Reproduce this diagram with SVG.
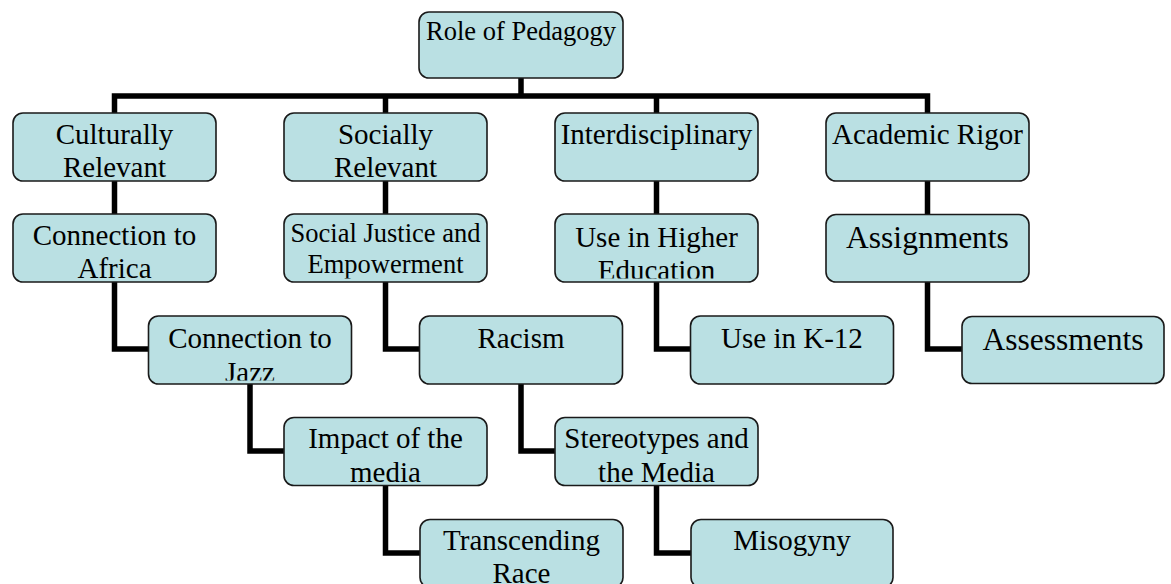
<svg xmlns="http://www.w3.org/2000/svg" width="1171" height="584" viewBox="0 0 1171 584">
  <style>
    .box { fill: #BAE0E3; stroke: #1a1a1a; stroke-width: 1.6; }
    .lbl { font-family: "Liberation Serif", "Times New Roman", serif; font-size: 29px; fill: #000; text-anchor: middle; }
    .sm { font-size: 26.5px; }
    .lg { font-size: 31.5px; }
    .top { font-size: 26.5px; }
    .wire { fill: none; stroke: #000; stroke-width: 5.5; stroke-linejoin: miter; stroke-linecap: butt; }
  </style>
  <defs>
    <!-- text areas: box interior, trimmed a little at the bottom edge -->
    <clipPath id="c-cult"><rect x="13" y="113" width="203" height="64.5"/></clipPath>
    <clipPath id="c-soc"><rect x="284" y="113" width="203" height="64.5"/></clipPath>
    <clipPath id="c-afr"><rect x="13" y="214" width="203" height="64.5"/></clipPath>
    <clipPath id="c-sj"><rect x="284" y="214" width="203" height="64.5"/></clipPath>
    <clipPath id="c-hed"><rect x="555" y="214" width="203" height="64.5"/></clipPath>
    <clipPath id="c-jazz"><rect x="148.5" y="316" width="203" height="64.5"/></clipPath>
    <clipPath id="c-imp"><rect x="284" y="417.5" width="203" height="64.5"/></clipPath>
    <clipPath id="c-ster"><rect x="555" y="417.5" width="203" height="64.5"/></clipPath>
    <clipPath id="c-tran"><rect x="420" y="519.5" width="203" height="64"/></clipPath>
  </defs>

  <!-- connectors -->
  <g id="connectors">
    <path class="wire" d="M521 78 V96"/>
    <path class="wire" d="M114.5 113 V96 H927.5 V113"/>
    <path class="wire" d="M385.5 96 V113"/>
    <path class="wire" d="M656.5 96 V113"/>

    <path class="wire" d="M114.5 181 V214"/>
    <path class="wire" d="M385.5 181 V214"/>
    <path class="wire" d="M656.5 181 V214"/>
    <path class="wire" d="M927.5 181 V215"/>

    <path class="wire" d="M114.5 282 V349 H148.5"/>
    <path class="wire" d="M385.5 282 V349 H419.5"/>
    <path class="wire" d="M656.5 282 V349 H690.5"/>
    <path class="wire" d="M927.5 282 V349 H962"/>

    <path class="wire" d="M250 384 V451 H284"/>
    <path class="wire" d="M521 384 V451 H555"/>

    <path class="wire" d="M385.5 485.5 V553 H420"/>
    <path class="wire" d="M656.5 485.5 V553 H691"/>
  </g>

  <g id="node-role">
    <rect class="box" x="419" y="12" width="204" height="66" rx="10"/>
    <text class="lbl top" x="521" y="40">Role of Pedagogy</text>
  </g>

  <g id="node-cultural">
    <rect class="box" x="13" y="113" width="203" height="68" rx="10"/>
    <g clip-path="url(#c-cult)">
      <text class="lbl" x="114.5" y="143.5">Culturally</text>
      <text class="lbl" x="114.5" y="176.8">Relevant</text>
    </g>
  </g>

  <g id="node-social">
    <rect class="box" x="284" y="113" width="203" height="68" rx="10"/>
    <g clip-path="url(#c-soc)">
      <text class="lbl" x="385.5" y="143.5">Socially</text>
      <text class="lbl" x="385.5" y="176.5">Relevant</text>
    </g>
  </g>

  <g id="node-inter">
    <rect class="box" x="555" y="113" width="203" height="68" rx="10"/>
    <text class="lbl" x="656.5" y="144.3">Interdisciplinary</text>
  </g>

  <g id="node-rigor">
    <rect class="box" x="826" y="113" width="203" height="68" rx="10"/>
    <text class="lbl" x="927.5" y="144.3">Academic Rigor</text>
  </g>

  <g id="node-africa">
    <rect class="box" x="13" y="214" width="203" height="68" rx="10"/>
    <g clip-path="url(#c-afr)">
      <text class="lbl" x="114.5" y="245">Connection to</text>
      <text class="lbl" x="114.5" y="278.4">Africa</text>
    </g>
  </g>

  <g id="node-justice">
    <rect class="box" x="284" y="214" width="203" height="68" rx="10"/>
    <g clip-path="url(#c-sj)">
      <text class="lbl sm" x="385.5" y="241.7">Social Justice and</text>
      <text class="lbl sm" x="385.5" y="272.7">Empowerment</text>
    </g>
  </g>

  <g id="node-higher">
    <rect class="box" x="555" y="214" width="203" height="68" rx="10"/>
    <g clip-path="url(#c-hed)">
      <text class="lbl" x="656.5" y="246.7">Use in Higher</text>
      <text class="lbl" x="656.5" y="280.1">Education</text>
    </g>
  </g>

  <g id="node-assign">
    <rect class="box" x="826" y="214.5" width="203" height="67.5" rx="10"/>
    <text class="lbl lg" x="927.5" y="248.3">Assignments</text>
  </g>

  <g id="node-jazz">
    <rect class="box" x="148.5" y="316" width="203" height="68" rx="10"/>
    <g clip-path="url(#c-jazz)">
      <text class="lbl" x="250" y="348.3">Connection to</text>
      <text class="lbl" x="250" y="381.7">Jazz</text>
    </g>
  </g>

  <g id="node-racism">
    <rect class="box" x="419.5" y="316" width="203" height="68" rx="10"/>
    <text class="lbl" x="521" y="348.3">Racism</text>
  </g>

  <g id="node-k12">
    <rect class="box" x="690.5" y="316" width="203" height="68" rx="10"/>
    <text class="lbl" x="792" y="348.3">Use in K-12</text>
  </g>

  <g id="node-assess">
    <rect class="box" x="962" y="316.5" width="202" height="67" rx="10"/>
    <text class="lbl lg" x="1063" y="350">Assessments</text>
  </g>

  <g id="node-media">
    <rect class="box" x="284" y="417.5" width="203" height="68" rx="10"/>
    <g clip-path="url(#c-imp)">
      <text class="lbl" x="385.5" y="448.3">Impact of the</text>
      <text class="lbl" x="385.5" y="481.7">media</text>
    </g>
  </g>

  <g id="node-stereo">
    <rect class="box" x="555" y="417.5" width="203" height="68" rx="10"/>
    <g clip-path="url(#c-ster)">
      <text class="lbl" x="656.5" y="448.3">Stereotypes and</text>
      <text class="lbl" x="656.5" y="481.7">the Media</text>
    </g>
  </g>

  <g id="node-transcend">
    <rect class="box" x="420" y="519.5" width="203" height="68" rx="10"/>
    <g clip-path="url(#c-tran)">
      <text class="lbl" x="521.5" y="550">Transcending</text>
      <text class="lbl" x="521.5" y="583.4">Race</text>
    </g>
  </g>

  <g id="node-misogyny">
    <rect class="box" x="691" y="519.5" width="202" height="68" rx="10"/>
    <text class="lbl" x="792" y="550">Misogyny</text>
  </g>
</svg>
